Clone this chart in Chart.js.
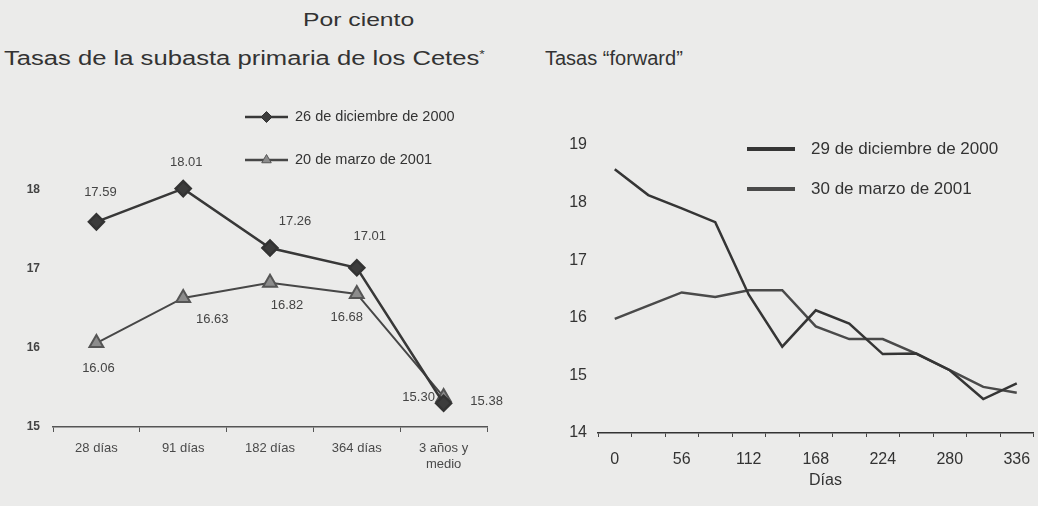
<!DOCTYPE html>
<html lang="es">
<head>
<meta charset="utf-8">
<script src="https://cdn.jsdelivr.net/npm/chart.js@4.4.1/dist/chart.umd.min.js"></script>
<style>
  html, body { margin: 0; padding: 0; }
  body {
    width: 1038px; height: 506px; position: relative; overflow: hidden;
    background: #ebebea; color: #333;
    font-family: 'Liberation Sans', Arial, sans-serif;
  }
  .txt { position: absolute; white-space: nowrap; line-height: 1; transform-origin: left top; }
  #unit { left: 303px; top: 10px; font-size: 19px; transform: scaleX(1.3); }
  #title-left { left: 4px; top: 48px; font-size: 20px; transform: scaleX(1.28); }
  #title-left sup { font-size: 11px; vertical-align: 7px; }
  #title-right { left: 545px; top: 48px; font-size: 20px; }
  #days { left: 809px; top: 472px; font-size: 16px; }
  canvas { position: absolute; top: 90px; }
  #cetes { left: 0; }
  #forward { left: 530px; }
</style>
</head>
<body>
<div class="txt" id="unit">Por ciento</div>
<div class="txt" id="title-left">Tasas de la subasta primaria de los Cetes<sup>*</sup></div>
<div class="txt" id="title-right">Tasas “forward”</div>
<canvas id="cetes" width="520" height="416"></canvas>
<canvas id="forward" width="508" height="416"></canvas>
<div class="txt" id="days">Días</div>
<script>
// Subasta primaria de Cetes
const cetesLabels = ['28 días', '91 días', '182 días', '364 días', ['3 años y', 'medio']];
const cetesDic = [17.59, 18.01, 17.26, 17.01, 15.30];
const cetesMar = [16.06, 16.63, 16.82, 16.68, 15.38];
const cetesTicks = [15, 16, 17, 18];

// Tasas forward
const fwdDays = [0, 28, 56, 84, 112, 140, 168, 196, 224, 252, 280, 308, 336];
const fwdDic = [18.58, 18.13, 17.90, 17.66, 16.40, 15.50, 16.13, 15.90, 15.37, 15.38, 15.09, 14.59, 14.86];
const fwdMar = [15.98, 16.21, 16.44, 16.36, 16.48, 16.48, 15.85, 15.63, 15.63, 15.38, 15.09, 14.80, 14.70];
const fwdTicks = [14, 15, 16, 17, 18, 19];

const FONT = "'Liberation Sans', Arial, sans-serif";
Chart.defaults.font.family = FONT;
Chart.defaults.animation = false;
Chart.defaults.events = [];

// where each value label sits relative to its point
const labelOffsets = [
  [[4, -29], [3, -26], [25, -27], [13, -31], [-25, -6]],
  [[2, 25], [29, 22], [17, 23], [-10, 23], [43, 5]],
];

const valueLabels = {
  id: 'valueLabels',
  afterDatasetsDraw(chart) {
    const ctx = chart.ctx;
    ctx.save();
    ctx.font = `13px ${FONT}`;
    ctx.fillStyle = '#444';
    ctx.textAlign = 'center';
    ctx.textBaseline = 'middle';
    chart.data.datasets.forEach((ds, i) => {
      chart.getDatasetMeta(i).data.forEach((pt, j) => {
        const [dx, dy] = labelOffsets[i][j];
        ctx.fillText(ds.data[j].toFixed(2), pt.x + dx, pt.y + dy);
      });
    });
    ctx.restore();
  },
};

const drawLegend = {
  id: 'drawLegend',
  afterDraw(chart, args, opts) {
    const ctx = chart.ctx;
    ctx.save();
    ctx.font = `${opts.fontSize}px ${FONT}`;
    ctx.textBaseline = 'middle';
    chart.data.datasets.forEach((ds, i) => {
      const y = opts.y[i];
      ctx.strokeStyle = ds.borderColor;
      ctx.lineWidth = opts.lineWidth;
      ctx.beginPath();
      ctx.moveTo(opts.x1, y);
      ctx.lineTo(opts.x2, y);
      ctx.stroke();
      if (opts.markerRadius) {
        ctx.fillStyle = ds.pointBackgroundColor;
        ctx.strokeStyle = ds.pointBorderColor;
        ctx.lineWidth = 1;
        Chart.helpers.drawPoint(ctx, { pointStyle: ds.pointStyle, radius: opts.markerRadius, borderWidth: 1 }, (opts.x1 + opts.x2) / 2, y);
      }
      ctx.fillStyle = '#333';
      ctx.fillText(ds.label, opts.textX, y);
    });
    ctx.restore();
  },
};

new Chart(document.getElementById('cetes'), {
  type: 'line',
  data: {
    labels: cetesLabels,
    datasets: [
      {
        label: '26 de diciembre de 2000',
        data: cetesDic,
        borderColor: '#383838',
        borderWidth: 2.5,
        pointStyle: 'rectRot',
        pointRadius: 7.5,
        pointBackgroundColor: '#3c3c3c',
        pointBorderColor: '#333',
        tension: 0,
      },
      {
        label: '20 de marzo de 2001',
        data: cetesMar,
        borderColor: '#474747',
        borderWidth: 2,
        pointStyle: 'triangle',
        pointRadius: 8,
        pointBackgroundColor: '#8c8c8c',
        pointBorderColor: '#555',
        tension: 0,
      },
    ],
  },
  options: {
    responsive: false,
    layout: { padding: { left: 3, right: 33, top: 11.5, bottom: 0 } },
    plugins: {
      legend: { display: false },
      tooltip: { enabled: false },
      drawLegend: { x1: 245, x2: 288, y: [27, 70], textX: 295, fontSize: 14.5, lineWidth: 2.5, markerRadius: 5.5 },
    },
    scales: {
      x: {
        offset: true,
        grid: { offset: true, drawOnChartArea: false, drawTicks: true, tickLength: 5, color: '#555' },
        border: { display: true, color: '#555', width: 1.5 },
        ticks: { font: { size: 13 }, color: '#4a4a4a', padding: 9, maxRotation: 0, autoSkip: false },
        afterFit: scale => { scale.height = 79; scale.paddingLeft = 0; scale.paddingRight = 0; },
      },
      y: {
        min: 15,
        max: 19,
        grid: { display: false, drawTicks: false },
        border: { display: false },
        ticks: {
          stepSize: 1,
          padding: 13,
          font: { size: 12, weight: 'bold' },
          color: '#444',
          callback: value => cetesTicks.includes(value) ? value : '',
        },
        afterFit: scale => { scale.width = 50; },
      },
    },
  },
  plugins: [valueLabels, drawLegend],
});

new Chart(document.getElementById('forward'), {
  type: 'line',
  data: {
    labels: fwdDays,
    datasets: [
      { label: '29 de diciembre de 2000', data: fwdDic, borderColor: '#353535', borderWidth: 2.5, pointRadius: 0, tension: 0 },
      { label: '30 de marzo de 2001', data: fwdMar, borderColor: '#4a4a4a', borderWidth: 2.5, pointRadius: 0, tension: 0 },
    ],
  },
  options: {
    responsive: false,
    layout: { padding: { left: 0, right: 4.5, top: 55, bottom: 0 } },
    plugins: {
      legend: { display: false },
      tooltip: { enabled: false },
      drawLegend: { x1: 217, x2: 265, y: [59, 99], textX: 281, fontSize: 17, lineWidth: 4 },
    },
    scales: {
      x: {
        offset: true,
        grid: { offset: true, drawOnChartArea: false, drawTicks: true, tickLength: 4, color: '#444' },
        border: { display: true, color: '#333', width: 1.5 },
        ticks: {
          font: { size: 16 },
          color: '#333',
          padding: 13,
          maxRotation: 0,
          autoSkip: false,
          callback: function (value, index) {
            return index % 2 === 0 ? this.getLabelForValue(value) : '';
          },
        },
        afterFit: scale => { scale.height = 73; scale.paddingLeft = 0; scale.paddingRight = 0; },
      },
      y: {
        min: 14,
        max: 19,
        grid: { display: false, drawTicks: false },
        border: { display: false },
        ticks: {
          stepSize: 1,
          padding: 11,
          font: { size: 16 },
          color: '#333',
          callback: value => fwdTicks.includes(value) ? value : '',
        },
        afterFit: scale => { scale.width = 68; },
      },
    },
  },
  plugins: [drawLegend],
});
</script>
</body>
</html>
